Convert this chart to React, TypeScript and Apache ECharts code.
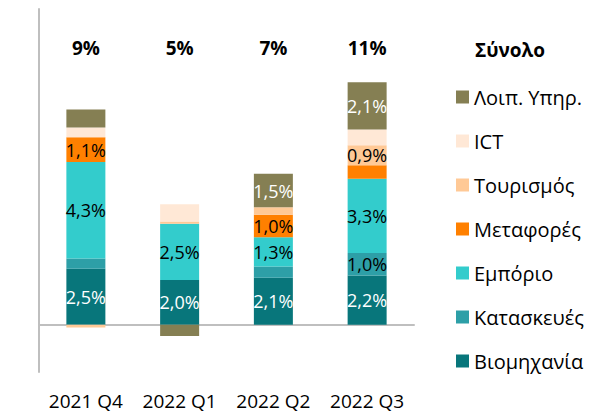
import React, { useEffect, useRef } from "react";
import * as echarts from "echarts";

const categories = ["2021 Q4", "2022 Q1", "2022 Q2", "2022 Q3"];
const totals = [9, 5, 7, 11];
const industry = [2.5, 2.0, 2.1, 2.2];
const construction = [0.45, 0, 0.5, 1.0];
const trade = [4.3, 2.5, 1.3, 3.3];
const transport = [1.1, 0, 1.0, 0.6];
const tourism = [-0.12, 0.1, 0.33, 0.9];
const ict = [0.44, 0.77, 0, 0.7];
const otherServices = [0.8, -0.5, 1.5, 2.1];

const seriesDefs = [
  { name: "Βιομηχανία", data: industry, color: "#08767b", labelColor: "#ffffff" },
  { name: "Κατασκευές", data: construction, color: "#2d9fa7", labelColor: "#000000" },
  { name: "Εμπόριο", data: trade, color: "#33cccc", labelColor: "#000000" },
  { name: "Μεταφορές", data: transport, color: "#ff8000", labelColor: "#000000" },
  { name: "Τουρισμός", data: tourism, color: "#ffc996", labelColor: "#000000" },
  { name: "ICT", data: ict, color: "#ffe8d6", labelColor: "#000000" },
  { name: "Λοιπ. Υπηρ.", data: otherServices, color: "#857f53", labelColor: "#ffffff" },
];

const FONT = "'Open Sans', 'Noto Sans', sans-serif";

export default function App() {
  const ref = useRef<HTMLDivElement>(null);
  useEffect(() => {
    if (!ref.current) return;
    const chart = echarts.init(ref.current, null, { renderer: "svg" });
    const option: any = {
      animation: false,
      backgroundColor: "#ffffff",
      grid: { left: 39, right: 199, top: 9, bottom: 41, containLabel: false },
      legend: {
        orient: "vertical",
        left: 451,
        top: 82,
        itemWidth: 13,
        itemHeight: 13,
        itemGap: 24,
        icon: "rect",
        data: seriesDefs.map((s) => s.name).reverse(),
        textStyle: { fontFamily: FONT, fontSize: 20, color: "#000", lineHeight: 20 },
      },
      graphic: [
        {
          type: "text",
          left: 475,
          top: 40,
          style: { text: "Σύνολο", fontFamily: FONT, fontSize: 19, fontWeight: "bold", fill: "#000" },
        },
      ],
      xAxis: [
        {
          type: "category",
          data: categories,
          position: "bottom",
          axisLine: { show: false, onZero: false },
          axisTick: { show: false },
          axisLabel: { interval: 0, margin: 19, fontFamily: FONT, fontSize: 19, color: "#000" },
        },
        {
          type: "category",
          data: categories,
          position: "bottom",
          axisLine: { show: true, onZero: true, lineStyle: { color: "#bfbfbf", width: 2 } },
          axisTick: { show: false },
          axisLabel: { show: false },
        },
        {
          type: "category",
          data: totals.map((t) => t + "%"),
          position: "top",
          axisLine: { show: false, onZero: false },
          axisTick: { show: false },
          axisLabel: {
            interval: 0,
            inside: true,
            margin: 29,
            fontFamily: FONT,
            fontSize: 19,
            fontWeight: "bold",
            color: "#000",
          },
        },
      ],
      yAxis: {
        type: "value",
        min: -2.1,
        max: 14.06,
        axisLine: { show: true, lineStyle: { color: "#bfbfbf", width: 2 } },
        axisTick: { show: false },
        axisLabel: { show: false },
        splitLine: { show: false },
      },
      series: seriesDefs.map((s) => ({
        name: s.name,
        type: "bar",
        stack: "total",
        xAxisIndex: 0,
        barWidth: 39,
        data: s.data,
        itemStyle: { color: s.color },
        label: {
          show: true,
          position: "inside",
          fontFamily: FONT,
          fontSize: 18,
          color: s.labelColor,
          formatter: (p: any) =>
            Math.abs(p.value) >= 0.9 ? p.value.toFixed(1).replace(".", ",") + "%" : "",
        },
      })),
    };
    chart.setOption(option);
    return () => chart.dispose();
  }, []);
  return (
    <div
      ref={ref}
      style={{ position: "fixed", left: 0, top: 0, width: 613, height: 413 }}
    />
  );
}
